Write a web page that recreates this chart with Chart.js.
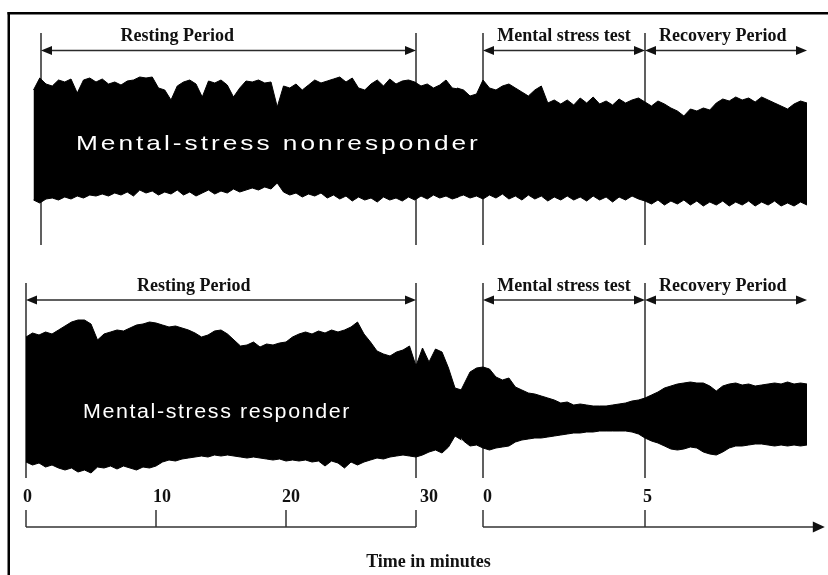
<!DOCTYPE html>
<html>
<head>
<meta charset="utf-8">
<script src="https://cdn.jsdelivr.net/npm/chart.js@4.4.1/dist/chart.umd.min.js"></script>
<style>
html,body{margin:0;padding:0;background:#fff;}
canvas{display:block;}
</style>
</head>
<body>
<canvas id="c" width="828" height="575"></canvas>
<script>
// ---------------- DATA ----------------
const periodLabels = ['Resting Period', 'Mental stress test', 'Recovery Period'];
const panelNames = ['Mental-stress nonresponder', 'Mental-stress responder'];
const restTicks = [0, 10, 20, 30];      // minutes, resting period
const testTicks = [0, 5];               // minutes, stress test / recovery
const axisTitle = 'Time in minutes';

// sample grids (minutes): resting segments every 0.5 min, test/recovery every 0.2 min
const nonRestStart = -0.6, nonRestStep = 0.5;
const nonTestStart = -0.8, nonTestStep = 0.2;
const respRestStart = 0, respRestStep = 0.5;
const respTestStart = -0.8, respTestStep = 0.2;

// Mental-stress nonresponder: pulse-wave envelope (a.u.), resting period
const nonRestUpper = [50,62,56,54,60,58,61,47,60,62, 58,61,56,58,55,59,60,63,62,63,
  52,50,40,54,58,60,56,43,59,57, 60,55,43,52,59,58,60,57,58,33,
  54,52,56,50,55,60,57,59,61,63, 58,62,52,50,56,60,54,61,56,59,
  60,58,54,56,52,55,60,52,51];
const nonRestLower = [-60,-63,-59,-58,-60,-57,-59,-56,-58,-55, -56,-54,-56,-53,-55,-52,-56,-50,-53,-51,
  -55,-52,-54,-50,-55,-52,-56,-53,-50,-54, -51,-53,-49,-52,-50,-48,-50,-47,-49,-43,
  -52,-55,-53,-57,-54,-56,-53,-58,-55,-59, -56,-61,-57,-60,-58,-62,-57,-60,-58,-61,
  -57,-60,-56,-59,-55,-58,-56,-59,-57];
// nonresponder: mental stress test + recovery
const nonTestUpper = [52,50,44,46,60,52,50,54,56,52, 48,44,50,54,37,40,36,40,35,42,
  37,43,36,39,35,41,37,40,42,38, 34,39,36,32,29,24,31,29,32,30,
  37,41,39,43,40,42,38,43,40,37, 34,31,36,39,37];
const nonTestLower = [-57,-55,-58,-56,-59,-55,-58,-54,-59,-56, -60,-55,-59,-56,-61,-57,-60,-56,-60,-57,
  -61,-56,-60,-57,-62,-57,-60,-56,-59,-61, -64,-60,-65,-61,-64,-60,-65,-61,-66,-62,
  -65,-61,-66,-62,-65,-61,-66,-62,-65,-61, -66,-63,-66,-62,-65];

// Mental-stress responder: resting period
const respRestUpper = [63,67,65,68,66,70,74,78,80,80, 76,60,66,68,70,69,72,75,76,78,
  77,75,73,74,72,70,67,63,65,69, 70,66,60,54,55,58,53,56,55,57,
  58,63,66,68,66,69,67,70,68,70, 73,78,66,58,49,46,44,48,50,54,
  34,52,38,51,48,32,12,10];
const respRestLower = [-62,-65,-63,-67,-65,-68,-70,-68,-72,-70, -73,-67,-68,-66,-69,-66,-68,-70,-67,-68,
  -66,-62,-60,-61,-59,-58,-57,-56,-57,-55, -56,-55,-56,-57,-58,-57,-58,-59,-60,-59,
  -61,-60,-61,-60,-62,-61,-66,-61,-63,-68, -62,-65,-62,-60,-58,-59,-57,-56,-55,-56,
  -57,-55,-52,-50,-53,-47,-36,-40];
// responder: mental stress test + recovery
const respTestUpper = [2,15,28,32,33,31,23,20,22,13, 10,7,6,4,2,0,-3,-2,-5,-4,
  -5,-6,-6,-6,-5,-4,-3,-1,0,2, 5,8,12,14,16,17,18,17,17,14,
  9,14,16,17,15,16,14,15,16,17, 16,18,16,17,16];
const respTestLower = [-32,-41,-46,-45,-48,-50,-48,-47,-46,-42, -40,-39,-38,-38,-37,-36,-35,-34,-33,-33,
  -32,-32,-31,-31,-31,-31,-31,-32,-34,-38, -41,-43,-46,-49,-50,-49,-47,-48,-52,-54,
  -55,-52,-48,-46,-46,-45,-44,-44,-45,-46, -45,-46,-45,-46,-45];

// ---------------- BUILD ----------------
function grid(start, step, n) { return Array.from({length: n}, (_, i) => +(start + i * step).toFixed(2)); }
function pts(times, vals) { return vals.map((v, i) => ({x: times[i], y: v})); }

const nonRestT = grid(nonRestStart, nonRestStep, nonRestUpper.length);
const nonTestT = grid(nonTestStart, nonTestStep, nonTestUpper.length);
const respRestT = grid(respRestStart, respRestStep, respRestUpper.length);
const respTestT = grid(respTestStart, respTestStep, respTestUpper.length);

const base = {borderColor: '#000', backgroundColor: '#000', borderWidth: 1, pointRadius: 0, tension: 0};
const datasets = [
  {...base, data: pts(nonRestT, nonRestUpper), xAxisID: 'xNonRest', yAxisID: 'yNon', fill: '+1'},
  {...base, data: pts(nonRestT, nonRestLower), xAxisID: 'xNonRest', yAxisID: 'yNon', fill: false},
  {...base, data: pts(nonTestT, nonTestUpper), xAxisID: 'xTest', yAxisID: 'yNon', fill: '+1'},
  {...base, data: pts(nonTestT, nonTestLower), xAxisID: 'xTest', yAxisID: 'yNon', fill: false},
  {...base, data: pts(respRestT, respRestUpper), xAxisID: 'xRest', yAxisID: 'yResp', fill: '+1'},
  {...base, data: pts(respRestT, respRestLower), xAxisID: 'xRest', yAxisID: 'yResp', fill: false},
  {...base, data: pts(respTestT, respTestUpper), xAxisID: 'xTest', yAxisID: 'yResp', fill: '+1'},
  {...base, data: pts(respTestT, respTestLower), xAxisID: 'xTest', yAxisID: 'yResp', fill: false}
];

const SERIF = '"Liberation Serif", "Times New Roman", serif';
const SANS = '"Liberation Sans", Arial, sans-serif';

function head(ctx, tip, y, dir, len, hw) {
  ctx.beginPath();
  ctx.moveTo(tip, y);
  ctx.lineTo(tip - dir * len, y - hw);
  ctx.lineTo(tip - dir * len, y + hw);
  ctx.closePath();
  ctx.fill();
}
function dArrow(ctx, x1, x2, y) {
  ctx.beginPath(); ctx.moveTo(x1 + 4, y); ctx.lineTo(x2 - 4, y); ctx.stroke();
  head(ctx, x1, y, -1, 11, 4.5);
  head(ctx, x2, y, 1, 11, 4.5);
}
function vLine(ctx, x, y1, y2) { ctx.beginPath(); ctx.moveTo(x, y1); ctx.lineTo(x, y2); ctx.stroke(); }

const deco = {
  id: 'deco',
  beforeDatasetsDraw(chart) {
    const {ctx, scales: s} = chart;
    ctx.save();
    ctx.strokeStyle = '#2b2b2b';
    ctx.lineWidth = 1.5;
    [s.xNonRest.getPixelForValue(0), s.xNonRest.getPixelForValue(30),
     s.xTest.getPixelForValue(testTicks[0]), s.xTest.getPixelForValue(testTicks[1])]
      .forEach(x => vLine(ctx, x, 33, 245));
    [s.xRest.getPixelForValue(0), s.xRest.getPixelForValue(30),
     s.xTest.getPixelForValue(testTicks[0]), s.xTest.getPixelForValue(testTicks[1])]
      .forEach(x => vLine(ctx, x, 283, 478));
    ctx.restore();
  },
  afterDatasetsDraw(chart) {
    const {ctx, scales: s} = chart;
    ctx.save();
    // frame
    ctx.fillStyle = '#000';
    ctx.fillRect(7.5, 12, 2.5, 575);
    ctx.fillRect(7.5, 12, 830, 2.5);

    // period arrows
    ctx.strokeStyle = '#2b2b2b'; ctx.fillStyle = '#111'; ctx.lineWidth = 1.5;
    const tR0 = s.xNonRest.getPixelForValue(0), tR1 = s.xNonRest.getPixelForValue(30);
    const m0 = s.xTest.getPixelForValue(0), m1 = s.xTest.getPixelForValue(5), r1 = s.xTest.getPixelForValue(10);
    const bR0 = s.xRest.getPixelForValue(0), bR1 = s.xRest.getPixelForValue(30);
    dArrow(ctx, tR0, tR1, 50.5); dArrow(ctx, m0, m1, 50.5); dArrow(ctx, m1, r1, 50.5);
    dArrow(ctx, bR0, bR1, 300); dArrow(ctx, m0, m1, 300); dArrow(ctx, m1, r1, 300);

    // period labels
    ctx.font = 'bold 18px ' + SERIF;
    ctx.textAlign = 'center'; ctx.textBaseline = 'alphabetic';
    ctx.fillText(periodLabels[0], s.xNonRest.getPixelForValue(10.9), 41);
    ctx.fillText(periodLabels[1], s.xTest.getPixelForValue(2.5), 41);
    ctx.fillText(periodLabels[2], s.xTest.getPixelForValue(7.4), 41);
    ctx.fillText(periodLabels[0], s.xRest.getPixelForValue(12.9), 291);
    ctx.fillText(periodLabels[1], s.xTest.getPixelForValue(2.5), 291);
    ctx.fillText(periodLabels[2], s.xTest.getPixelForValue(7.4), 291);

    // white panel names
    ctx.fillStyle = '#fff';
    ctx.textAlign = 'left';
    ctx.save();
    ctx.translate(76, 149.5); ctx.scale(1.25, 1);
    ctx.font = '21px ' + SANS;
    ctx.letterSpacing = '2.4px';
    ctx.fillText(panelNames[0], 0, 0);
    ctx.restore();
    ctx.save();
    ctx.translate(83, 418); ctx.scale(1.1, 1);
    ctx.font = '19.5px ' + SANS;
    ctx.letterSpacing = '1.45px';
    ctx.fillText(panelNames[1], 0, 0);
    ctx.restore();

    // time axis
    ctx.strokeStyle = '#333'; ctx.fillStyle = '#111'; ctx.lineWidth = 1.5;
    const ay = 527;
    ctx.beginPath(); ctx.moveTo(bR0, ay); ctx.lineTo(bR1, ay); ctx.stroke();
    restTicks.forEach(t => vLine(ctx, s.xRest.getPixelForValue(t), 510, ay));
    const tip = s.xTest.getPixelForValue(10.55);
    ctx.beginPath(); ctx.moveTo(m0, ay); ctx.lineTo(tip - 6, ay); ctx.stroke();
    head(ctx, tip, ay, 1, 12, 5.5);
    testTicks.forEach(t => vLine(ctx, s.xTest.getPixelForValue(t), 510, ay));

    ctx.font = 'bold 18px ' + SERIF;
    ctx.textAlign = 'left';
    const restDx = [-3, -3, -4, 4], testDx = [0, -2];
    restTicks.forEach((t, i) => ctx.fillText(String(t), s.xRest.getPixelForValue(t) + restDx[i], 502));
    testTicks.forEach((t, i) => ctx.fillText(String(t), s.xTest.getPixelForValue(t) + testDx[i], 502));

    ctx.textAlign = 'center';
    ctx.fillText(axisTitle, 428.5, 567);
    ctx.restore();
  }
};

new Chart(document.getElementById('c'), {
  type: 'line',
  data: {datasets},
  options: {
    responsive: false,
    animation: false,
    devicePixelRatio: 1,
    events: [],
    layout: {padding: 0},
    plugins: {legend: {display: false}, tooltip: {enabled: false}},
    scales: {
      xNonRest: {type: 'linear', display: false, min: -3.28, max: 62.96},
      xRest: {type: 'linear', display: false, min: -2, max: 61.6923},
      xTest: {type: 'linear', display: false, min: -14.9074, max: 10.6481},
      yNon: {type: 'linear', display: false, min: -435, max: 140},
      yResp: {type: 'linear', display: false, min: -175, max: 400}
    }
  },
  plugins: [deco]
});
</script>
</body>
</html>
